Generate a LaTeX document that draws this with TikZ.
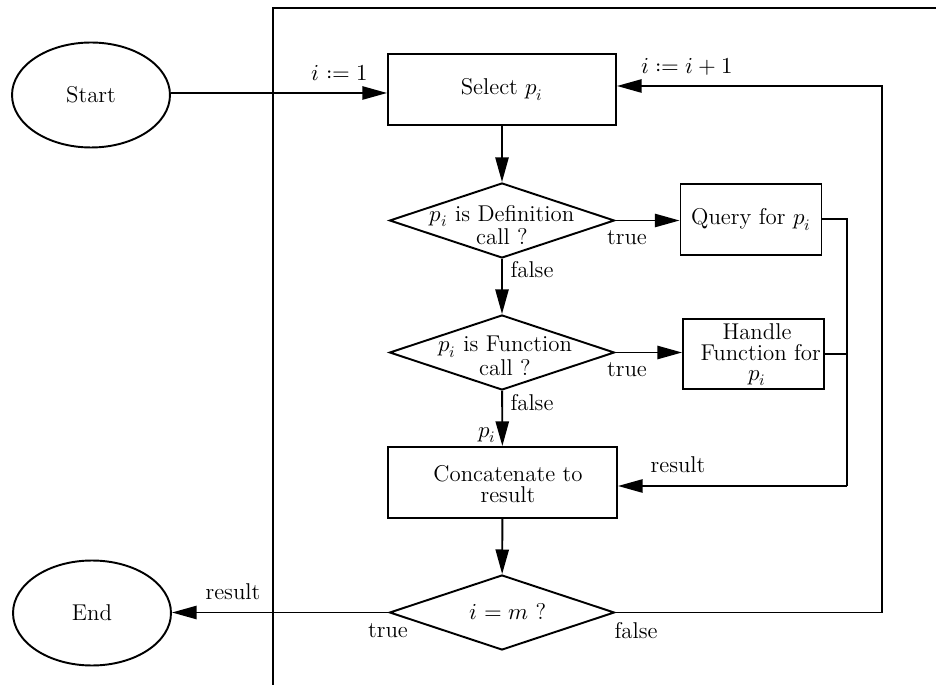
\documentclass[tikz,border=0pt]{standalone}
\usepackage{unicode-math}
\usetikzlibrary{shapes.geometric,arrows.meta}
\begin{document}
\begin{tikzpicture}[x=0.02cm,y=-0.02cm,
  every node/.style={font=\fontsize{13}{11.5}\selectfont},
  tight/.style={font=\fontsize{13}{9.8}\selectfont},
  line/.style={line width=1.1pt},
  arr/.style={line width=1.1pt,-{Triangle[length=14pt,width=7.5pt]}},
  term/.style={ellipse,draw,line width=1.1pt,inner sep=0pt,minimum width=3.16cm,minimum height=2.1cm},
  proc/.style={rectangle,draw,line width=1.1pt,inner sep=0pt,align=center},
  dec/.style={diamond,draw,line width=1.1pt,inner sep=0pt,minimum width=4.5cm,minimum height=1.5cm},
  lbl/.style={inner sep=1pt}]
\useasboundingbox (0,0) rectangle (936,685);

% outer frame
\coordinate (fb) at (273,685);
\coordinate (fc) at (273,8);
\coordinate (fr) at (936,8);
\draw[line] (fb) -- (fc) -- (fr);

% terminals
\node[term] (start) at (91,95) {Start};
\node[term] (end) at (92,613) {End};

% process boxes
\node[proc,minimum width=4.56cm,minimum height=1.42cm] (select) at (502,89.5) {Select $p_i$};
\node[proc,minimum width=2.82cm,minimum height=1.42cm] (query) at (751,219.5) {Query for $p_i$};
\node[proc,minimum width=2.82cm,minimum height=1.4cm] (handle) at (753.5,354) {};
\node[align=center] (handletxt) at (757,355) {Handle\\ \ Function for\\ $p_i$};
\node[proc,minimum width=4.58cm,minimum height=1.42cm] (concat) at (502.5,482.5) {};
\node[align=center] (concattxt) at (508,484) {Concatenate to\\ result};

% decisions
\node[dec] (d1) at (502,220.5) {};
\node[align=center,tight] (d1txt) at (502,225) {$p_i$ is Definition\\ call ?};
\node[dec] (d2) at (502,352.5) {};
\node[align=center,tight] (d2txt) at (505,356) {$p_i$ is Function\\ call ?};
\node[dec] (d3) at (502,612.5) {};
\node (d3txt) at (508,612) {$i = m$ ?};

% bus collecting the results
\coordinate (busT) at (847,219);
\coordinate (busM) at (847,354);
\coordinate (busB) at (847,486);
% loop back to the selection
\coordinate (loopB) at (882,612.5);
\coordinate (loopT) at (882,86);

% connectors
\draw[arr] (start.east |- 0,93) -- (select.west |- 0,93);
\draw[arr] (select) -- (d1);
\draw[arr] (d1.east) -- (d1.east -| query.west);
\draw[arr] (d1) -- (d2);
\draw[arr] (d2.east) -- (d2.east -| handle.west);
\draw[arr] (d2) -- (concat);
\draw[line] (query.east |- busT) -- (busT) -- (busB);
\draw[line] (handle.east |- busM) -- (busM);
\draw[arr] (busB) -- (busB -| concat.east);
\draw[arr] (concat) -- (d3);
\draw[arr] (d3.west) -- (d3.west -| end.east);
\draw[arr] (d3.east) -- (loopB) -- (loopT) -- (loopT -| select.east);

% connector labels
\node[lbl] (l1) at (340,73) {$i := 1$};
\node[lbl] (l2) at (687,67) {$i := i + 1$};
\node[lbl] (l3) at (627,238) {true};
\node[lbl] (l4) at (532,270) {false};
\node[lbl] (l5) at (627,370) {true};
\node[lbl] (l6) at (532,403) {false};
\node[lbl] (l7) at (487,435) {$p_i$};
\node[lbl] (l8) at (678,465) {result};
\node[lbl] (l9) at (388,631) {true};
\node[lbl] (l10) at (636,631) {false};
\node[lbl] (l11) at (233,592) {result};
\end{tikzpicture}
\end{document}
